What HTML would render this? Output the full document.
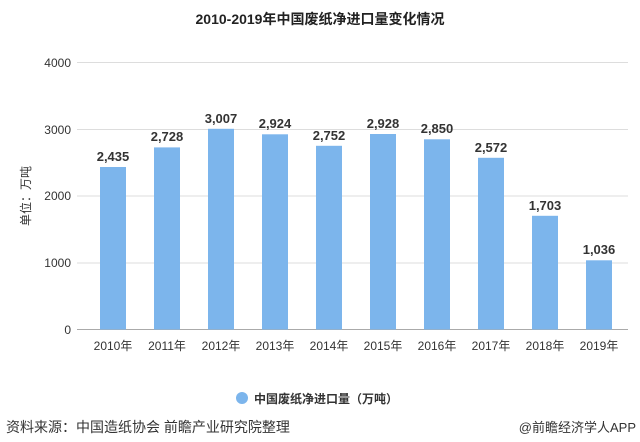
<!DOCTYPE html>
<html><head><meta charset="utf-8"><style>
body{margin:0;background:#fff;width:640px;height:437px;overflow:hidden}
svg text{font-family:"Liberation Sans","Noto Sans CJK SC",sans-serif}
</style></head><body>
<svg width="640" height="437" xmlns="http://www.w3.org/2000/svg">
<text x="320" y="24" text-anchor="middle" font-size="14" font-weight="bold" fill="#222">2010-2019年中国废纸净进口量变化情况</text>
<g stroke="#ddd" stroke-width="1">
<line x1="77" y1="62.5" x2="628" y2="62.5"/>
<line x1="77" y1="129.5" x2="628" y2="129.5"/>
<line x1="77" y1="196" x2="628" y2="196"/>
<line x1="77" y1="263" x2="628" y2="263"/>
</g>
<line x1="77" y1="329.5" x2="628" y2="329.5" stroke="#aaa"/>
<g font-size="12" fill="#333" text-anchor="end">
<text x="71" y="67">4000</text><text x="71" y="134">3000</text><text x="71" y="200">2000</text><text x="71" y="267">1000</text><text x="71" y="334">0</text>
</g>
<text transform="translate(30,196) rotate(-90)" font-size="12" fill="#333" text-anchor="middle">单位：万吨</text>
<g fill="#7cb5ec">
<rect x="100" y="167" width="26" height="162.5"/>
<rect x="154" y="147.4" width="26" height="182.1"/>
<rect x="208" y="128.8" width="26" height="200.7"/>
<rect x="262" y="134.3" width="26" height="195.2"/>
<rect x="316" y="145.8" width="26" height="183.7"/>
<rect x="370" y="134" width="26" height="195.5"/>
<rect x="424" y="139.3" width="26" height="190.2"/>
<rect x="478" y="157.8" width="26" height="171.7"/>
<rect x="532" y="215.8" width="26" height="113.7"/>
<rect x="586" y="260.3" width="26" height="69.2"/>
</g>
<g font-size="13" font-weight="bold" fill="#333" text-anchor="middle">
<text x="113" y="161">2,435</text><text x="167" y="141">2,728</text><text x="221" y="123">3,007</text><text x="275" y="128">2,924</text><text x="329" y="140">2,752</text><text x="383" y="128">2,928</text><text x="437" y="133">2,850</text><text x="491" y="152">2,572</text><text x="545" y="210">1,703</text><text x="599" y="254">1,036</text>
</g>
<g font-size="12" fill="#333" text-anchor="middle">
<text x="113" y="350">2010年</text><text x="167" y="350">2011年</text><text x="221" y="350">2012年</text><text x="275" y="350">2013年</text><text x="329" y="350">2014年</text><text x="383" y="350">2015年</text><text x="437" y="350">2016年</text><text x="491" y="350">2017年</text><text x="545" y="350">2018年</text><text x="599" y="350">2019年</text>
</g>
<circle cx="242" cy="398" r="6" fill="#7cb5ec"/>
<text x="254" y="403" font-size="12" font-weight="bold" fill="#333">中国废纸净进口量（万吨）</text>
<text x="6" y="432" font-size="14" fill="#333">资料来源：中国造纸协会 前瞻产业研究院整理</text>
<text x="636" y="432" font-size="13" fill="#333" text-anchor="end">@前瞻经济学人APP</text>
</svg>
</body></html>
